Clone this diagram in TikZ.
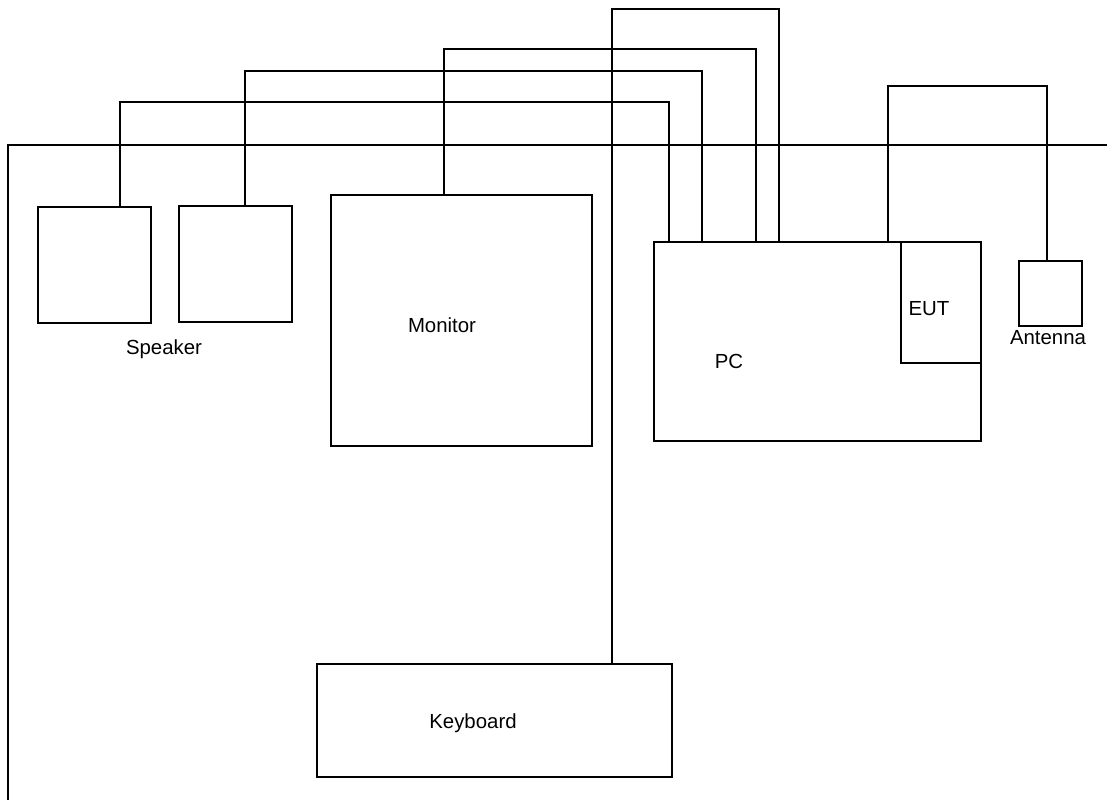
\documentclass[tikz,border=0pt]{standalone}
\usepackage{fontspec}
\setmainfont{Liberation Sans}

\tikzset{
    unit/.style={draw, rectangle, inner sep=0pt, line width=0.9pt},
    tag/.style={inner sep=0pt, font=\fontsize{14.5}{17}\selectfont},
    cable/.style={line width=0.9pt}
}

\begin{document}
\begin{tikzpicture}[x=0.025cm, y=-0.025cm]
    \useasboundingbox (0,0) rectangle (1107,800);

    % table edge
    \draw[cable] (8,800) |- (1107,145);

    \node[unit, minimum width=2.825cm, minimum height=2.9cm] (speaker-a) at (94.5,265) {};
    \node[unit, minimum width=2.825cm, minimum height=2.9cm] (speaker-b) at (235.5,264) {};
    \node[tag] (speaker-label) at (164,349) {Speaker};

    \node[unit, minimum width=6.525cm, minimum height=6.275cm] (monitor) at (461.5,320.5) {};
    \node[tag] (monitor-label) at (442,325) {Monitor};

    \node[unit, minimum width=8.175cm, minimum height=4.975cm] (pc) at (817.5,341.5) {};
    \node[tag] (pc-label) at (729,361) {PC};
    \node[unit, minimum width=2cm, minimum height=3.025cm] (eut) at (941,302.5) {};
    \node[tag] (eut-label) at (929,309) {EUT};

    \node[unit, minimum width=1.575cm, minimum height=1.625cm] (antenna) at (1050.5,293.5) {};
    \node[tag] (antenna-label) at (1048,338) {Antenna};

    \node[unit, minimum width=8.875cm, minimum height=2.825cm] (keyboard) at (494.5,720.5) {};
    \node[tag] (keyboard-label) at (473,723) {Keyboard};

    % cables to the PC
    \draw[cable] (speaker-a.north -| 120,0) -- (120,102) -| (pc.north -| 669,0);
    \draw[cable] (speaker-b.north -| 245,0) -- (245,71) -| (pc.north -| 702,0);
    \draw[cable] (monitor.north -| 444,0) -- (444,49) -| (pc.north -| 756,0);
    \draw[cable] (keyboard.north -| 612,0) -- (612,9) -| (pc.north -| 779,0);
    \draw[cable] (antenna.north -| 1047,0) -- (1047,86) -| (pc.north -| 888,0);
\end{tikzpicture}
\end{document}
